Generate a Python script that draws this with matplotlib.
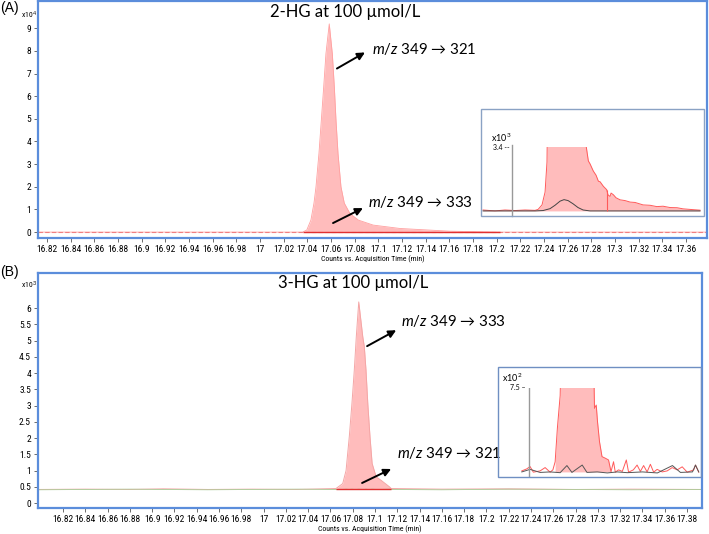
import numpy as np
import matplotlib
matplotlib.use("Agg")
import matplotlib.pyplot as plt
from matplotlib import font_manager
from matplotlib.patches import Rectangle
from matplotlib.ticker import FuncFormatter, FixedLocator

plt.rcParams['font.family'] = ['Lato', 'DejaVu Sans']
plt.rcParams['mathtext.fontset'] = 'custom'
plt.rcParams['mathtext.it'] = 'Lato:italic'
plt.rcParams['mathtext.rm'] = 'Lato'

W, H = 709, 534

# ---------------- data ----------------
# (A) 2-HG, counts x10^4, m/z 349 -> 321
a_time = [16.812, 16.90, 17.00, 17.036, 17.0395, 17.043, 17.0456, 17.0473, 17.0498,
          17.0518, 17.0538, 17.0557, 17.0585, 17.0611, 17.0628, 17.0642, 17.0659,
          17.0684, 17.0712, 17.076, 17.0831, 17.0956, 17.1183, 17.1605, 17.2028,
          17.28, 17.378]
a_321 = [0.0, 0.0, 0.0, 0.0, 0.09, 0.53, 1.28, 2.0, 3.47,
         4.93, 6.4, 7.87, 9.19, 7.87, 6.4, 4.93, 3.47,
         2.0, 1.28, 0.82, 0.53, 0.31, 0.16, 0.04, 0.0,
         0.0, 0.0]
a_peak_start, a_peak_end = 17.036, 17.2028

# inset (A), counts x10^3
ai_time = [16.987, 16.9988, 17.0087, 17.0186, 17.0284, 17.0383, 17.0413, 17.0452,
           17.0482, 17.0501, 17.0521, 17.0867, 17.0886, 17.0909, 17.0926, 17.0958,
           17.0985, 17.1008, 17.1025, 17.1057, 17.1090, 17.1103, 17.1123, 17.1133,
           17.1156, 17.1182, 17.1222, 17.1271, 17.1321, 17.1370, 17.1449, 17.1518,
           17.1584, 17.1646, 17.1715, 17.1784, 17.1844, 17.1913, 17.2011]
ai_321 = [0.05, 0.0, 0.05, 0.02, 0.05, 0.03, 0.08, 0.32,
          1.0, 2.6, 12.0, 12.0, 3.5, 2.66, 2.5, 2.12,
          1.9, 1.58, 1.55, 1.31, 1.13, 0.85, 0.77, 0.95,
          0.86, 0.7, 0.59, 0.55, 0.47, 0.45, 0.32, 0.3,
          0.23, 0.25, 0.18, 0.17, 0.11, 0.08, 0.04]
ai_333_time = [16.987, 17.0383, 17.0462, 17.0531, 17.0580, 17.0630, 17.0669, 17.0709,
               17.0758, 17.0807, 17.0857, 17.0926, 17.2011]
ai_333 = [0.0, 0.0, 0.02, 0.12, 0.3, 0.52, 0.6, 0.55,
          0.38, 0.18, 0.05, 0.0, 0.0]
ai_marker = (17.109, 1.13)

# (B) 3-HG, counts x10^3, m/z 349 -> 333
b_time = [16.798, 16.84, 16.88, 16.91, 16.95, 16.99, 17.03, 17.065, 17.071, 17.074,
          17.0769, 17.0793, 17.0814, 17.0832, 17.0854, 17.089, 17.0904, 17.0919,
          17.0935, 17.0955, 17.0974, 17.101, 17.1055, 17.113, 17.1145, 17.16,
          17.22, 17.28, 17.33, 17.393]
b_333 = [0.42, 0.43, 0.42, 0.44, 0.42, 0.43, 0.42, 0.45, 0.6, 1.0,
         2.04, 3.07, 4.09, 5.12, 6.19, 5.12, 4.81, 4.09,
         3.07, 2.04, 1.22, 0.81, 0.7, 0.5, 0.45, 0.43,
         0.44, 0.42, 0.43, 0.42]
b_321 = [0.41, 0.42, 0.43, 0.42, 0.41, 0.42, 0.43, 0.42, 0.42, 0.43,
         0.42, 0.43, 0.42, 0.42, 0.43, 0.42, 0.42, 0.43,
         0.42, 0.42, 0.43, 0.42, 0.42, 0.43, 0.42, 0.41,
         0.43, 0.42, 0.41, 0.42]
b_base = 0.42
b_peak_start, b_peak_end = 17.065, 17.1145

# inset (B), counts x10^2
bi_time = [17.042, 17.046, 17.0486, 17.0512, 17.0566, 17.0606, 17.0646, 17.0668,
           17.0686, 17.0704, 17.0726, 17.0734, 17.0992, 17.1000, 17.1014, 17.1024,
           17.104, 17.1060, 17.1086, 17.1112, 17.1132, 17.1152, 17.1166, 17.1192,
           17.1222, 17.1254, 17.1272, 17.131, 17.1340, 17.1366, 17.1392, 17.142,
           17.1446, 17.1472, 17.15, 17.154, 17.158, 17.1620, 17.166, 17.17,
           17.174, 17.1792, 17.1806, 17.1832]
bi_333 = [4.24, 4.32, 4.41, 4.19, 4.24, 4.37, 4.19, 4.28,
          4.6, 5.93, 7.2, 9.0, 9.0, 6.7, 6.83, 6.18,
          5.39, 4.8, 4.74, 4.67, 4.21, 4.6, 4.19, 4.28,
          4.22, 4.67, 4.19, 4.28, 4.47, 4.22, 4.45, 4.2,
          4.5, 4.19, 4.3, 4.2, 4.24, 4.37, 4.28, 4.4,
          4.19, 4.28, 4.47, 4.19]
bi_fill = (8, 21)  # index range of the integrated peak
bi_321_time = [17.042, 17.0486, 17.0566, 17.0646, 17.0726, 17.078, 17.082, 17.0902,
               17.094, 17.1022, 17.1102, 17.1182, 17.1262, 17.1382, 17.1502, 17.1622,
               17.1686, 17.1782, 17.1806, 17.1832]
bi_321 = [4.2, 4.3, 4.18, 4.2, 4.17, 4.45, 4.18, 4.47,
          4.18, 4.2, 4.16, 4.2, 4.17, 4.2, 4.16, 4.45,
          4.18, 4.2, 4.47, 4.2]

a_ticks = np.round(np.arange(16.82, 17.361, 0.02), 2)
b_ticks = np.round(np.arange(16.82, 17.381, 0.02), 2)

# ---------------- layout helpers ----------------
fig = plt.figure(figsize=(W / 100, H / 100), dpi=100)


def box(x0, y0, x1, y1):
    return [x0 / W, 1 - y1 / H, (x1 - x0) / W, (y1 - y0) / H]


def fx(x, y):
    return x / W, 1 - y / H


# narrow face for the instrument-style tick labels
names = {f.name for f in font_manager.fontManager.ttflist}
narrow_family = 'DejaVu Sans'
for cand in ['Liberation Sans Narrow', 'Roboto Condensed', 'Open Sans Condensed',
             'DejaVu Sans Condensed']:
    if cand in names:
        narrow_family = cand
        break
narrow = font_manager.FontProperties(family=narrow_family, stretch='condensed', size=6.8)
narrow_small = font_manager.FontProperties(family=narrow_family, stretch='condensed', size=5.6)

blue = '#5b8ddb'
fill_c = '#ffbcbc'
line_c = '#ff5a5a'
fmt = FuncFormatter(lambda v, p: '%g' % v)


def style_main(ax):
    for s in ax.spines.values():
        s.set_color(blue)
        s.set_linewidth(1.6)
    ax.tick_params(length=3, width=0.6, color='#555555', pad=2)
    for lab in ax.get_xticklabels() + ax.get_yticklabels():
        lab.set_fontproperties(narrow)


def style_inset(ax):
    ax.set_xticks([])
    ax.set_yticks([])
    for s in ax.spines.values():
        s.set_visible(False)
    ax.patch.set_alpha(0)


def mz(ax, tail, head, text_at, label):
    ax.annotate('', xy=head, xytext=tail,
                arrowprops=dict(arrowstyle='-|>', color='black', lw=1.4,
                                mutation_scale=11, shrinkA=0, shrinkB=0))
    ax.text(text_at[0], text_at[1], r'$\mathit{m/z}$ ' + label, fontsize=10.8,
            ha='left', va='center', family=['Lato', 'DejaVu Sans'])


# ---------------- panel A ----------------
axA = fig.add_axes(box(38, 1, 707, 238))
axA.fill_between(a_time, 0, a_321, color=fill_c, lw=0)
axA.plot(a_time, a_321, color='#ffa0a0', lw=0.6)
axA.axhline(0, color='#f08080', lw=0.8, ls=(0, (4, 2)))
axA.hlines(0, a_peak_start, a_peak_end, color='#e03030', lw=1.0)
axA.set_xlim(16.8124, 17.3777)
axA.set_ylim(-0.26, 10.2)
axA.xaxis.set_major_locator(FixedLocator(a_ticks))
axA.set_yticks(range(0, 10))
axA.xaxis.set_major_formatter(fmt)
style_main(axA)
axA.set_xlabel('Counts vs. Acquisition Time (min)', labelpad=1, fontproperties=narrow_small)
axA.text(0.459, 0.954, '2-HG at 100 µmol/L', transform=axA.transAxes,
         fontsize=12, ha='center', va='center')
mz(axA, (17.065, 7.22), (17.0887, 7.93), (17.0946, 8.1), '349 → 321')
mz(axA, (17.0617, 0.40), (17.087, 1.06), (17.0913, 1.32), '349 → 333')
fig.text(*fx(0, 8), '(A)', fontsize=10, va='center', family=['Liberation Sans'])
fig.text(*fx(37, 14), r'x10$^{4}$', ha='right', va='center', fontproperties=narrow_small)

# inset A
fig.add_artist(Rectangle(fx(481, 216), 223 / W, 107 / H, transform=fig.transFigure,
                         fill=False, ec='#8aa2c4', lw=1.0))
iA = fig.add_axes(box(481, 147, 704, 216))
iA.fill_between(ai_time, 0, ai_321, color=fill_c, lw=0)
iA.plot(ai_time, ai_321, color=line_c, lw=0.7)
iA.plot(ai_333_time, ai_333, color='#444444', lw=0.7)
iA.vlines(ai_marker[0], 0, ai_marker[1], color=line_c, lw=0.8)
iA.axvline(17.0156, ymin=0, ymax=1.03, color='#999999', lw=1.0, clip_on=False)
iA.set_xlim(16.985, 17.205)
iA.set_ylim(-0.27, 3.4)
style_inset(iA)
fig.text(*fx(511, 138), r'x10$^{3}$', fontsize=6.5, ha='right', va='center')
fig.text(*fx(510, 148), '3.4 --', fontsize=5, ha='right', va='center')

# ---------------- panel B ----------------
axB = fig.add_axes(box(38, 273, 702, 508))
axB.fill_between(b_time, b_base, b_333, color=fill_c, lw=0)
axB.plot(b_time, b_333, color='#f4a6a6', lw=0.7)
axB.plot(b_time, b_321, color='#a9cf9a', lw=0.6)
axB.hlines(b_base, b_peak_start, b_peak_end, color='#e03030', lw=1.0)
axB.set_xlim(16.7975, 17.3935)
axB.set_ylim(-0.15, 7.08)
axB.xaxis.set_major_locator(FixedLocator(b_ticks))
axB.set_yticks(np.arange(0, 6.01, 0.5))
axB.xaxis.set_major_formatter(fmt)
axB.yaxis.set_major_formatter(fmt)
style_main(axB)
axB.set_xlabel('Counts vs. Acquisition Time (min)', labelpad=1, fontproperties=narrow_small)
axB.text(0.474, 0.957, '3-HG at 100 µmol/L', transform=axB.transAxes,
         fontsize=12, ha='center', va='center')
mz(axB, (17.0929, 4.83), (17.119, 5.32), (17.1235, 5.6), '349 → 333')
mz(axB, (17.0884, 0.62), (17.1145, 1.05), (17.1199, 1.54), '349 → 321')
fig.text(*fx(0, 272), '(B)', fontsize=10, va='center', family=['Liberation Sans'])
fig.text(*fx(37, 285), r'x10$^{3}$', ha='right', va='center', fontproperties=narrow_small)

# inset B
fig.add_artist(Rectangle(fx(498, 477), 203 / W, 110 / H, transform=fig.transFigure,
                         fill=False, ec='#6f8fc2', lw=1.0))
iB = fig.add_axes(box(498, 388, 701, 477))
s, e = bi_fill
iB.fill_between(bi_time[s:e], 4.2, bi_333[s:e], color=fill_c, lw=0)
iB.plot(bi_time, bi_333, color=line_c, lw=0.7)
iB.plot(bi_321_time, bi_321, color='#555555', lw=0.7)
iB.axvline(17.0478, ymin=0, ymax=1.0, color='#999999', lw=1.0)
iB.set_xlim(17.023, 17.185)
iB.set_ylim(4.0, 7.5)
style_inset(iB)
fig.text(*fx(522, 378), r'x10$^{2}$', fontsize=6.5, ha='right', va='center')
fig.text(*fx(526, 388), '7.5 –', fontsize=5, ha='right', va='center')

fig.savefig('out.png', dpi=100)
